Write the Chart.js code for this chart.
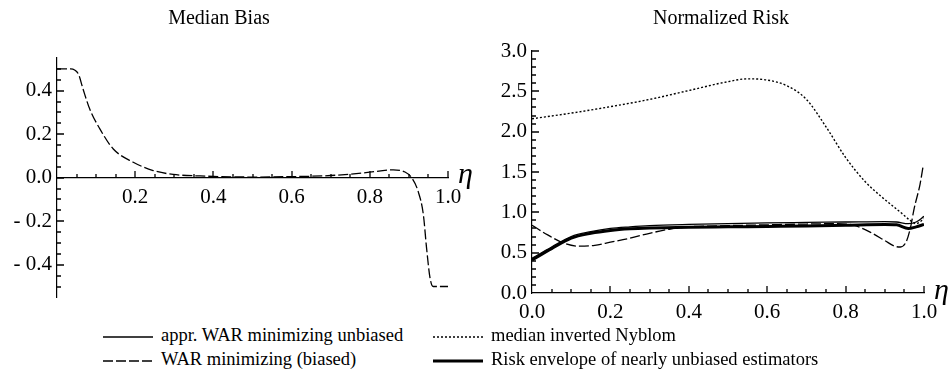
<!DOCTYPE html>
<html>
<head>
<meta charset="utf-8">
<script src="https://cdn.jsdelivr.net/npm/chart.js@4.4.1/dist/chart.umd.min.js"></script>
<style>
  body { margin: 0; background: #fff; width: 952px; height: 373px; position: relative; overflow: hidden; font-family: "Liberation Serif", "DejaVu Serif", serif; color: #000; }
  canvas { position: absolute; }
  .title { position: absolute; font-size: 20px; transform: translateX(-50%); white-space: nowrap; }
  .eta { position: absolute; font-style: italic; font-size: 30px; line-height: 30px; }
  .leg { position: absolute; font-size: 18.5px; line-height: 20px; white-space: nowrap; }
  .leg svg { vertical-align: middle; margin-right: 8px; }
</style>
</head>
<body>
<canvas id="biasChart" style="left:0;top:0;width:480px;height:315px" width="480" height="315"></canvas>
<canvas id="riskChart" style="left:480px;top:0;width:472px;height:330px" width="472" height="330"></canvas>

<div class="title" style="left:219px;top:6px">Median Bias</div>
<div class="title" style="left:721px;top:6px">Normalized Risk</div>
<div class="eta" style="left:458px;top:158px">η</div>
<div class="eta" style="left:934px;top:274px">η</div>

<div class="leg" style="left:103px;top:325px"><svg width="50" height="6"><line x1="0" y1="3" x2="50" y2="3" stroke="#000" stroke-width="1.3"/></svg>appr. WAR minimizing unbiased</div>
<div class="leg" style="left:103px;top:349px"><svg width="50" height="6"><line x1="0" y1="3" x2="50" y2="3" stroke="#000" stroke-width="1.3" stroke-dasharray="10 3"/></svg>WAR minimizing (biased)</div>
<div class="leg" style="left:433px;top:325px"><svg width="50" height="6"><line x1="0" y1="3" x2="50" y2="3" stroke="#000" stroke-width="1.3" stroke-dasharray="2 2"/></svg>median inverted Nyblom</div>
<div class="leg" style="left:433px;top:349px"><svg width="50" height="6"><line x1="0" y1="3" x2="50" y2="3" stroke="#000" stroke-width="3"/></svg>Risk envelope of nearly unbiased estimators</div>

<script>
// Median Bias panel: WAR minimizing (biased)
const biasEta = [0, 0.035, 0.045, 0.055, 0.067, 0.084, 0.11, 0.144, 0.195, 0.246, 0.297, 0.366, 0.5, 0.6, 0.7, 0.79, 0.86, 0.89, 0.907, 0.924, 0.937, 0.945, 0.954, 0.962, 1.0];
const biasWar = [0.5, 0.5, 0.495, 0.475, 0.405, 0.314, 0.223, 0.132, 0.071, 0.033, 0.015, 0.008, 0.003, 0.005, 0.01, 0.023, 0.036, 0.026, 0, -0.065, -0.17, -0.32, -0.46, -0.5, -0.5];

// Normalized Risk panel
const riskEtaSolid = [0, 0.05, 0.1, 0.15, 0.2, 0.25, 0.3, 0.4, 0.5, 0.6, 0.7, 0.8, 0.9, 0.93, 0.96, 0.98, 1.0];
const riskUnbiased = [0.43, 0.57, 0.70, 0.76, 0.80, 0.82, 0.835, 0.85, 0.86, 0.87, 0.875, 0.88, 0.885, 0.88, 0.86, 0.88, 0.95];
const riskEnvelope = [0.41, 0.55, 0.68, 0.74, 0.775, 0.795, 0.805, 0.815, 0.82, 0.825, 0.83, 0.84, 0.85, 0.845, 0.80, 0.82, 0.85];

const riskEtaWar = [0, 0.04, 0.08, 0.12, 0.16, 0.2, 0.25, 0.3, 0.35, 0.4, 0.5, 0.6, 0.7, 0.78, 0.82, 0.86, 0.9, 0.925, 0.94, 0.955, 0.965, 0.975, 0.99, 0.998];
const riskWar = [0.84, 0.72, 0.62, 0.58, 0.59, 0.63, 0.68, 0.74, 0.79, 0.82, 0.835, 0.845, 0.855, 0.86, 0.84, 0.76, 0.65, 0.58, 0.57, 0.64, 0.80, 1.05, 1.35, 1.58];

const riskEtaNyblom = [0, 0.1, 0.2, 0.3, 0.4, 0.5, 0.55, 0.6, 0.65, 0.7, 0.75, 0.8, 0.85, 0.89, 0.94, 0.965, 0.98, 1.0];
const riskNyblom = [2.16, 2.23, 2.31, 2.40, 2.51, 2.62, 2.655, 2.64, 2.57, 2.40, 2.06, 1.68, 1.38, 1.2, 1.0, 0.90, 0.86, 0.92];

// tick labels
const biasXTicks = [0.2, 0.4, 0.6, 0.8, 1.0];
const biasYTicks = [-0.4, -0.2, 0, 0.2, 0.4];
const riskXTicks = [0, 0.2, 0.4, 0.6, 0.8, 1.0];
const riskYTicks = [0, 0.5, 1.0, 1.5, 2.0, 2.5, 3.0];

Chart.defaults.font.family = '"Liberation Serif", "DejaVu Serif", serif';
Chart.defaults.color = '#000';

function pts(xs, ys) {
    return xs.map((x, i) => ({ x: x, y: ys[i] }));
}

function steps(from, to, step) {
    const out = [];
    for (let v = from; v <= to + 1e-9; v += step) out.push(Math.round(v * 1000) / 1000);
    return out;
}

// small ticks pointing into the plot, like the original
function innerTicks(xMinor, xMajor, yMinor, yMajor) {
    const isMajor = (list, v) => list.some(m => Math.abs(m - v) < 1e-6);
    return {
        id: 'innerTicks',
        afterDraw(chart) {
            const ctx = chart.ctx;
            const xs = chart.scales.x, ys = chart.scales.y;
            const yAxis = Math.round(Math.min(ys.getPixelForValue(0), chart.chartArea.bottom));
            const xAxis = Math.round(chart.chartArea.left);
            ctx.save();
            ctx.strokeStyle = '#000';
            ctx.lineWidth = 1.3;
            ctx.setLineDash([]);
            ctx.beginPath();
            xMinor.forEach(v => {
                const px = Math.round(xs.getPixelForValue(v));
                const len = isMajor(xMajor, v) ? 7 : 4;
                ctx.moveTo(px, yAxis);
                ctx.lineTo(px, yAxis - len);
            });
            yMinor.forEach(v => {
                const py = Math.round(ys.getPixelForValue(v));
                const len = isMajor(yMajor, v) ? 7 : 4;
                ctx.moveTo(xAxis, py);
                ctx.lineTo(xAxis + len, py);
            });
            ctx.stroke();
            ctx.restore();
        }
    };
}

function fmt(v) {
    return v < 0 ? '- ' + Math.abs(v).toFixed(1) : v.toFixed(1);
}

function axisX(tickList, hideZero) {
    return {
        type: 'linear', min: 0, max: 1, position: { y: 0 },
        border: { display: true, color: '#000', width: 1.2 },
        grid: { display: false, drawTicks: false },
        ticks: { padding: 7, font: { size: 21 }, maxRotation: 0,
                 callback: v => (hideZero && v === 0) ? '' : v.toFixed(1) },
        afterBuildTicks: s => { s.ticks = tickList.map(v => ({ value: v })); }
    };
}

function axisY(tickList, min, max, width) {
    return {
        type: 'linear', min: min, max: max, position: 'left',
        border: { display: true, color: '#000', width: 1.2 },
        grid: { display: false, drawTicks: false },
        ticks: { padding: 5, font: { size: 21 }, callback: v => fmt(v) },
        afterBuildTicks: s => { s.ticks = tickList.map(v => ({ value: v })); },
        afterFit: s => { s.width = width; }
    };
}

const lineBase = { pointRadius: 0, borderColor: '#000', fill: false, cubicInterpolationMode: 'monotone' };

new Chart(document.getElementById('biasChart'), {
    type: 'line',
    data: {
        datasets: [
            Object.assign({ label: 'WAR minimizing (biased)', data: pts(biasEta, biasWar), borderWidth: 1.3, borderDash: [10, 3] }, lineBase)
        ]
    },
    options: {
        responsive: false,
        animation: false,
        layout: { padding: { left: 0, top: 58, right: 32, bottom: 15 } },
        scales: {
            x: axisX(biasXTicks, true),
            y: axisY(biasYTicks, -0.55, 0.55, 57)
        },
        plugins: { legend: { display: false }, tooltip: { enabled: false } }
    },
    plugins: [innerTicks(steps(0.05, 1.0, 0.05), biasXTicks, steps(-0.5, 0.5, 0.05), biasYTicks)]
});

new Chart(document.getElementById('riskChart'), {
    type: 'line',
    data: {
        datasets: [
            Object.assign({ label: 'median inverted Nyblom', data: pts(riskEtaNyblom, riskNyblom), borderWidth: 1.4, borderDash: [2, 2] }, lineBase),
            Object.assign({ label: 'WAR minimizing (biased)', data: pts(riskEtaWar, riskWar), borderWidth: 1.3, borderDash: [10, 3] }, lineBase),
            Object.assign({ label: 'Risk envelope of nearly unbiased estimators', data: pts(riskEtaSolid, riskEnvelope), borderWidth: 3 }, lineBase),
            Object.assign({ label: 'appr. WAR minimizing unbiased', data: pts(riskEtaSolid, riskUnbiased), borderWidth: 1.3 }, lineBase)
        ]
    },
    options: {
        responsive: false,
        animation: false,
        layout: { padding: { left: 0, top: 51, right: 28, bottom: 37 } },
        scales: {
            x: axisX(riskXTicks, false),
            y: axisY(riskYTicks, 0, 3, 52)
        },
        plugins: { legend: { display: false }, tooltip: { enabled: false } }
    },
    plugins: [innerTicks(steps(0.05, 1.0, 0.05), riskXTicks, steps(0.1, 3.0, 0.1), riskYTicks)]
});
</script>
</body>
</html>
